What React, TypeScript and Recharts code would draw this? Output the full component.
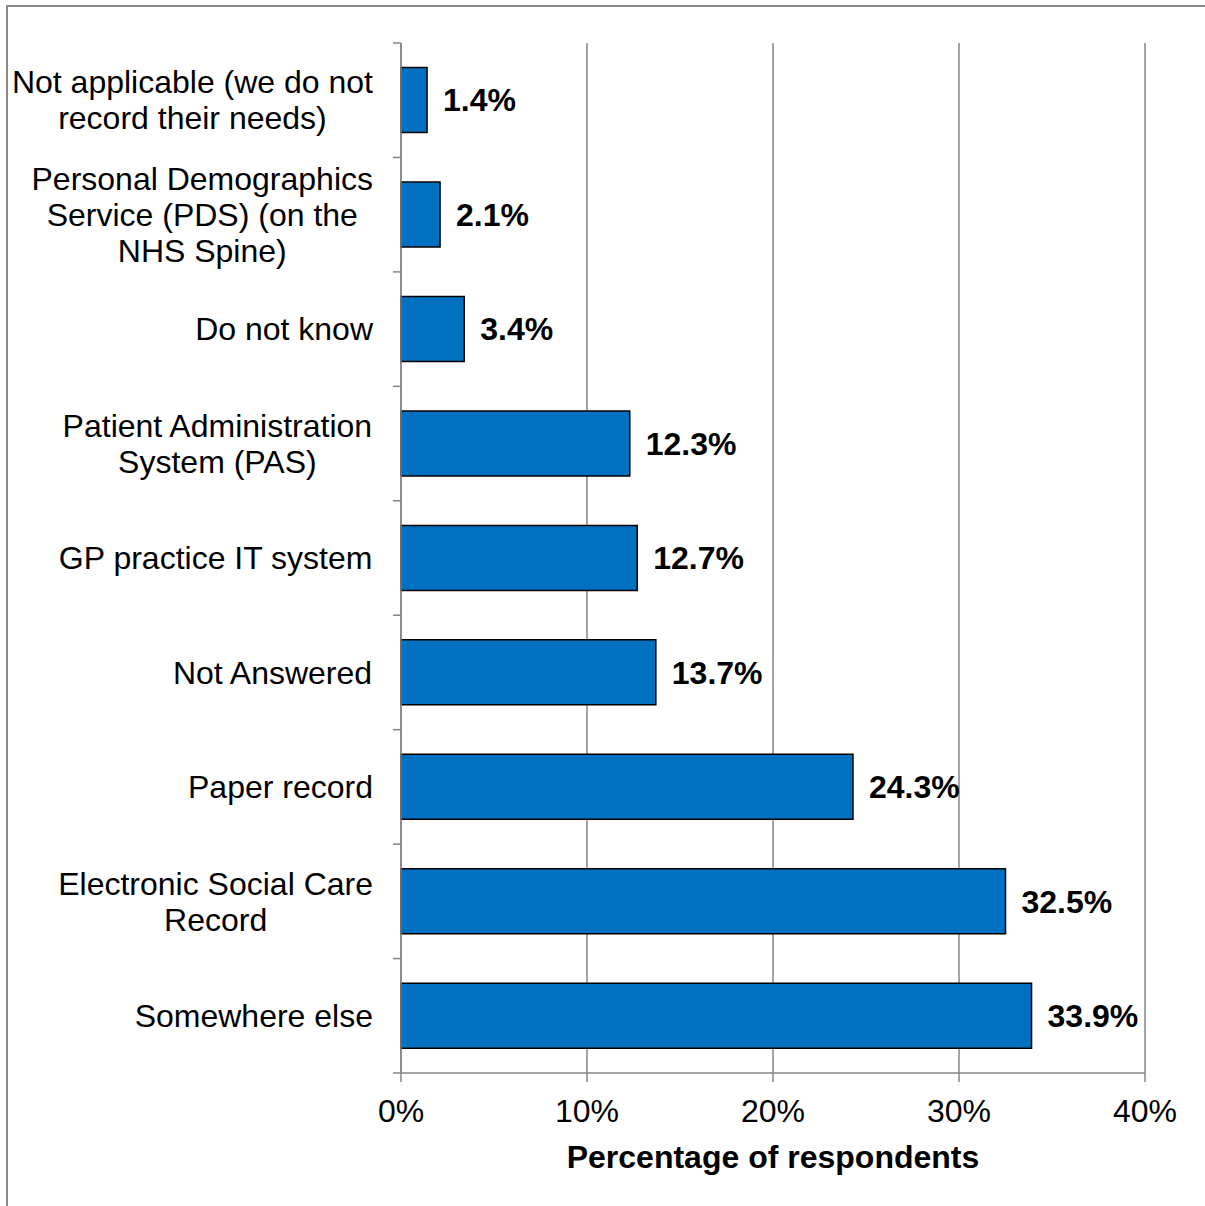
import React from "react"
import {
  BarChart,
  Bar,
  XAxis,
  YAxis,
  CartesianGrid,
  LabelList,
} from "recharts"

const categories = [
  "Not applicable (we do not|record their needs)",
  "Personal Demographics|Service (PDS) (on the|NHS Spine)",
  "Do not know",
  "Patient Administration|System (PAS)",
  "GP practice IT system",
  "Not Answered",
  "Paper record",
  "Electronic Social Care|Record",
  "Somewhere else",
]
const percentages = [1.4, 2.1, 3.4, 12.3, 12.7, 13.7, 24.3, 32.5, 33.9]
const xTicks = [0, 10, 20, 30, 40]

const data = categories.map((name, i) => ({ name, value: percentages[i] }))

const W = 1205
const H = 1206
const PLOT_LEFT = 401
const PLOT_TOP = 43
const PLOT_BOTTOM = 1073
const PLOT_RIGHT = 1145
const BAND = (PLOT_BOTTOM - PLOT_TOP) / categories.length
const FONT = "'Liberation Sans', Arial, sans-serif"
const FS = 32
const AXIS_GREY = "#868686"

let ctx: CanvasRenderingContext2D | null = null
function measure(text: string) {
  if (!ctx) ctx = document.createElement("canvas").getContext("2d")
  if (!ctx) return text.length * 16
  ctx.font = `${FS}px ${FONT}`
  return ctx.measureText(text).width
}

function CategoryTick(props: any) {
  const { y, payload, index } = props
  const lines: string[] = String(payload.value).split("|")
  const widest = Math.max(...lines.map(measure))
  const cx = PLOT_LEFT - 28 - widest / 2
  const n = lines.length
  return (
    <g>
      <line x1={PLOT_LEFT - 8} x2={PLOT_LEFT} y1={y - BAND / 2} y2={y - BAND / 2} stroke={AXIS_GREY} strokeWidth={1.5} />
      {index === categories.length - 1 && (
        <line x1={PLOT_LEFT - 8} x2={PLOT_LEFT} y1={y + BAND / 2} y2={y + BAND / 2} stroke={AXIS_GREY} strokeWidth={1.5} />
      )}
      <text textAnchor="middle" fontFamily={FONT} fontSize={FS} fill="#000">
        {lines.map((l, i) => (
          <tspan key={i} x={cx} y={y + (i - (n - 1) / 2) * 36} dy="0.35em">
            {l}
          </tspan>
        ))}
      </text>
    </g>
  )
}

export default function App() {
  return (
    <div style={{ position: "absolute", left: 0, top: 0, width: W, height: H, background: "#fff", overflow: "hidden" }}>
      <div
        style={{
          position: "absolute",
          left: 6,
          top: 5,
          width: 1400,
          height: 1400,
          borderTop: "2px solid #8a8a8a",
          borderLeft: "2px solid #8a8a8a",
        }}
      />
      <div style={{ position: "absolute", left: 0, top: 0 }}>
        <BarChart
          width={W}
          height={H}
          data={data}
          layout="vertical"
          barCategoryGap="21.5%"
          margin={{ top: PLOT_TOP, bottom: 0, left: 11, right: W - PLOT_RIGHT }}
        >
          <CartesianGrid horizontal={false} stroke={AXIS_GREY} strokeWidth={1.5} />
          <XAxis
            type="number"
            domain={[0, 40]}
            ticks={xTicks}
            tickFormatter={(v: number) => `${v}%`}
            stroke={AXIS_GREY}
            strokeWidth={1.5}
            tickSize={9}
            tickMargin={17}
            tick={{ fill: "#000", fontSize: FS, fontFamily: FONT }}
            height={H - PLOT_BOTTOM}
            label={{
              value: "Percentage of respondents",
              position: "insideTop",
              offset: 72,
              fill: "#000",
              fontSize: FS,
              fontWeight: "bold",
              fontFamily: FONT,
            }}
          />
          <YAxis
            type="category"
            dataKey="name"
            width={390}
            stroke={AXIS_GREY}
            strokeWidth={1.5}
            tickLine={false}
            tick={<CategoryTick />}
            interval={0}
          />
          <Bar dataKey="value" fill="#0070C0" stroke="#000" strokeWidth={1.5} isAnimationActive={false}>
            <LabelList
              dataKey="value"
              position="right"
              offset={16}
              formatter={(v: any) => `${v}%`}
              fill="#000"
              fontSize={FS}
              fontWeight="bold"
              fontFamily={FONT}
            />
          </Bar>
        </BarChart>
      </div>
    </div>
  )
}
